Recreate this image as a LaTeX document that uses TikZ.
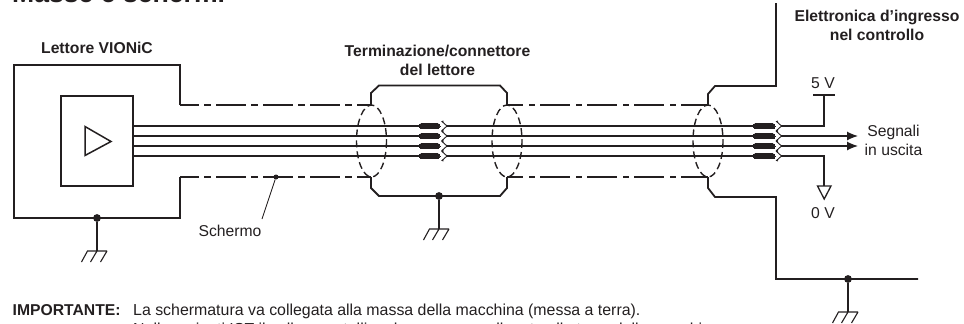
\documentclass[tikz,border=0pt]{standalone}
\usepackage{fontspec}
\setmainfont{Liberation Sans}
\usetikzlibrary{arrows.meta}
\definecolor{ink}{HTML}{231F20}
\tikzset{x=1pt,y=-1pt,
  shell/.style={line width=1.8pt,draw=ink},
  wire/.style={line width=1.2pt,draw=ink},
  thin wire/.style={line width=1.1pt,draw=ink},
  screen/.style={line width=1.8pt,draw=ink,dash pattern=on 30pt off 5pt on 7pt off 5pt,dash phase=11pt},
  screenb/.style={line width=1.8pt,draw=ink,dash pattern=on 30pt off 6pt on 6pt off 5pt,dash phase=14pt},
  ringdash/.style={line width=1.4pt,draw=ink,dash pattern=on 7pt off 4pt},
  pill/.style={draw=ink,fill=ink,line width=0pt,rounded corners=2.7pt},
  dotnode/.style={circle,fill=ink,inner sep=0pt,minimum size=7.8pt},
  lbl/.style={font=\fontsize{15.7pt}{19pt}\selectfont,text=ink,inner sep=0pt,align=center},
  blbl/.style={font=\fontsize{15.7pt}{19pt}\selectfont\bfseries,text=ink,inner sep=0pt,align=center},
  note/.style={font=\fontsize{15.9pt}{19pt}\selectfont,text=ink,inner sep=0pt,anchor=base west},
  pics/earth/.style={code={
    \draw[thin wire] (-10,0)--(10,0) (-9.5,0)--(-15.5,11) (0,0)--(-6.5,11) (10,0)--(3.5,11);
  }},
  pics/chev/.style={code={
    \draw[line width=0.9pt,draw=ink] (0,-5)--(-1.5,-4.5)--(3.5,0)--(-1.5,4.5)--(0,5);
  }},
}
\begin{document}
\begin{tikzpicture}
\path[use as bounding box] (0,0) rectangle (964,324);
\clip (0,0) rectangle (964,324);
% title
\node[font=\fontsize{26.6pt}{30pt}\selectfont\bfseries,text=ink,inner sep=0pt,anchor=base west] (title) at (12,2.5) {Masse e schermi};
% reader
\coordinate (ra) at (180,105);
\coordinate (rb) at (180,177);
\draw[shell,line join=miter] (ra)--(180,65)--(14,65)--(14,218)--(180,218)--(rb);
\node[draw=ink,line width=1.5pt,minimum width=72pt,minimum height=90pt,inner sep=0pt] (amp) at (97,141) {};
\draw[line width=1.5pt,draw=ink,line join=miter] (85,126.5)--(111,141.5)--(85,155.5)--cycle;
% connector terminals
\coordinate (c1a) at (371,105);\coordinate (c1b) at (371,177);
\coordinate (c2a) at (507,105);\coordinate (c2b) at (507,177);
\coordinate (c3a) at (708,105);\coordinate (c3b) at (708,177);
% screens
\draw[screen] (ra)--(c1a);\draw[screen] (rb)--(c1b);
\draw[screenb] (c2a)--(c3a);\draw[screenb] (c2b)--(c3b);
% shells
\draw[shell] (c1a)--(371,93)--(379,85.5)--(500,85.5)--(507,93)--(c2a);
\draw[shell] (c1b)--(371,188)--(379,196)--(500,196)--(507,188)--(c2b);
\draw[shell] (776,3)--(776,86)--(715,86)--(708,94)--(c3a);
\draw[shell] (c3b)--(708,188)--(715,197)--(776,197)--(776,279)--(918,279);
% rings
\foreach \cx in {371.5,507,708}{
  \draw[ringdash] (\cx,141) ellipse [x radius=15,y radius=36];
}
% wires and pills
\foreach \wy in {126,136,146,156}{
  \draw[wire] (133,\wy)--(419,\wy);
  \draw[wire] (447,\wy)--(753,\wy);
  \draw[pill] (419,\wy-2.7) rectangle (440,\wy+2.7);
  \draw[pill] (753,\wy-2.7) rectangle (775,\wy+2.7);
  \pic at (443.5,\wy) {chev};
  \pic at (778,\wy) {chev};
}
% outputs
\coordinate (v5) at (824,95);
\coordinate (v0) at (824,186);
\coordinate (w1) at (781,126);
\coordinate (w4) at (781,156);
\coordinate (w2) at (781,136);
\coordinate (w3) at (781,146);
\coordinate (a2) at (858,136);
\coordinate (a3) at (858,146);
\draw[wire] (w1)-|(v5);
\draw[wire] (813,95)--(835,95);
\draw[wire] (w4)-|(v0);
\draw[line width=1.3pt,draw=ink,line join=miter] (817.5,186)--(831,186)--(824.2,199)--cycle;
\draw[wire,-{Latex[length=11pt,width=9pt]}] (w2)--(a2);
\draw[wire,-{Latex[length=11pt,width=9pt]}] (w3)--(a3);
% grounds
\node[dotnode] (g1) at (97,218) {};
\node[dotnode] (g2) at (439,196) {};
\node[dotnode] (g3) at (848,279) {};
\coordinate (e1) at (97,251);\coordinate (e2) at (439,229);\coordinate (e3) at (848,312);
\draw[thin wire] (g1)--(e1) (g2)--(e2) (g3)--(e3);
\pic at (e1) {earth};\pic at (e2) {earth};\pic at (e3) {earth};
% schermo
\node[dotnode,minimum size=5pt] (sd) at (276,177) {};
\coordinate (sl) at (262,219);
\draw[line width=0.9pt,draw=ink] (sd)--(sl);
% labels
\node[blbl] (l1) at (97,48) {Lettore VIONiC};
\node[blbl] (l2) at (437.5,60) {Terminazione/connettore\\del lettore};
\node[blbl] (l3) at (877,25.5) {Elettronica d’ingresso\\nel controllo};
\node[lbl] (l4) at (823,83) {5 V};
\node[lbl] (l5) at (823,213) {0 V};
\node[lbl] (l6) at (893.5,140.5) {Segnali\\in uscita};
\node[lbl] (l7) at (230,231) {Schermo};
\node[note,font=\fontsize{15.7pt}{19pt}\selectfont\bfseries] (n0) at (12.5,315) {IMPORTANTE:};
\node[note] (n1) at (133,315) {La schermatura va collegata alla massa della macchina (messa a terra).};
\node[note] (n2) at (133,334) {Nelle varianti IST il collare metallico deve essere collegato alla terra della macchina.};
\end{tikzpicture}
\end{document}
